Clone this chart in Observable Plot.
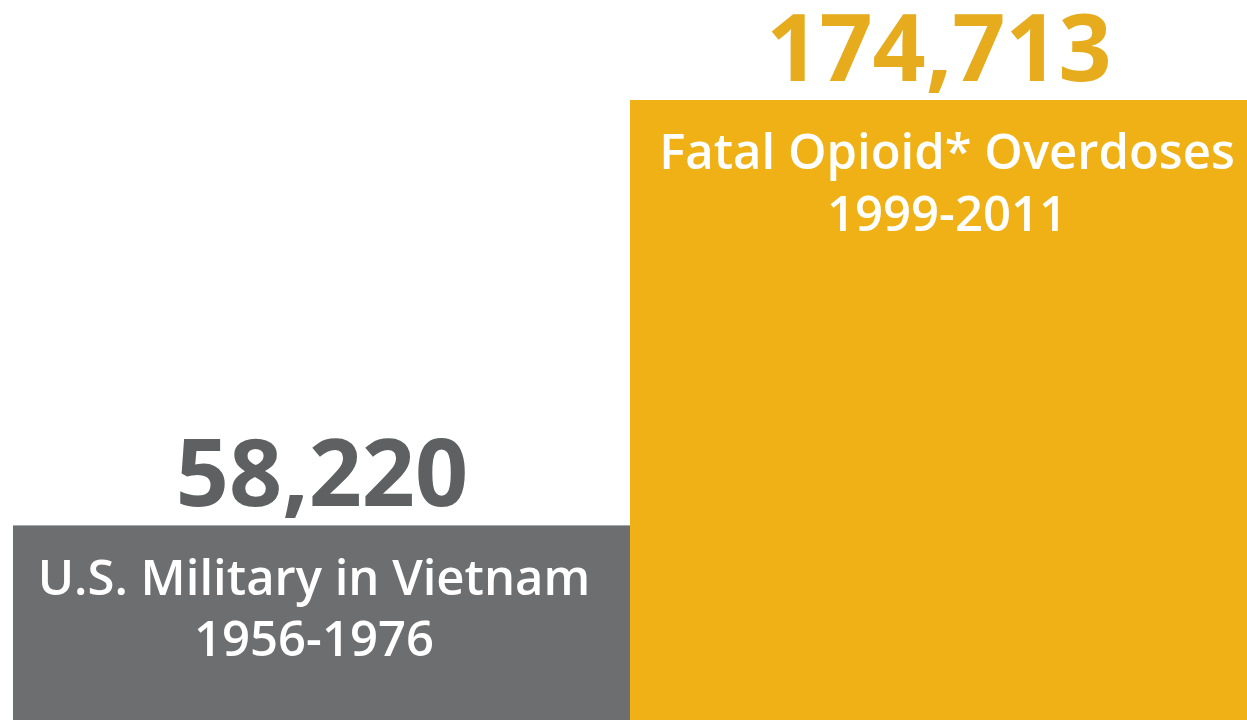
<!DOCTYPE html>
<html>
<head>
<meta charset="utf-8">
<script src="https://cdn.jsdelivr.net/npm/d3@7"></script>
<script src="https://cdn.jsdelivr.net/npm/@observablehq/plot@0.6"></script>
<style>
  html, body { margin: 0; padding: 0; background: #fff; overflow: hidden; }
  #chart svg { display: block; overflow: visible; }
</style>
</head>
<body>
<div id="chart"></div>
<script>
const categories = ["U.S. Military in Vietnam\n1956-1976", "Fatal Opioid* Overdoses\n1999-2011"];
const values = [58220, 174713];
const valueLabels = ["58,220", "174,713"];
const barColors = ["#6d6e70", "#f0b116"];
const numberColors = ["#5f6062", "#e6ac1e"];

const data = categories.map((c, i) => ({
  category: c, value: values[i], label: valueLabels[i],
  bar: barColors[i], num: numberColors[i]
}));

const font = "'Open Sans', 'Noto Sans', sans-serif";

const chart = Plot.plot({
  width: 1247,
  height: 738,
  marginTop: 100,
  marginBottom: 0,
  marginLeft: 13,
  marginRight: 0,
  style: { fontFamily: font, background: "#fff" },
  x: { domain: categories, padding: 0, axis: null },
  y: { domain: [0, 174713], axis: null },
  marks: [
    Plot.barY(data, { x: "category", y: "value", fill: d => d.bar }),
    Plot.text(data, {
      x: "category", y: "value", text: "label", fill: d => d.num,
      fontSize: 93, fontWeight: "bold", lineAnchor: "bottom", dy: -20, textAnchor: "middle"
    }),
    Plot.text(data.filter((d, i) => i === 0), {
      x: "category", y: "value", text: "category", fill: "#ffffff",
      fontSize: 49, fontWeight: 600, lineAnchor: "top", dy: 26, dx: -8, lineHeight: 1.24, textAnchor: "middle"
    }),
    Plot.text(data.filter((d, i) => i === 1), {
      x: "category", y: "value", text: "category", fill: "#ffffff",
      fontSize: 49, fontWeight: 600, lineAnchor: "top", dy: 25, dx: 8, lineHeight: 1.26, textAnchor: "middle"
    })
  ]
});
document.getElementById("chart").appendChild(chart);
</script>
</body>
</html>
